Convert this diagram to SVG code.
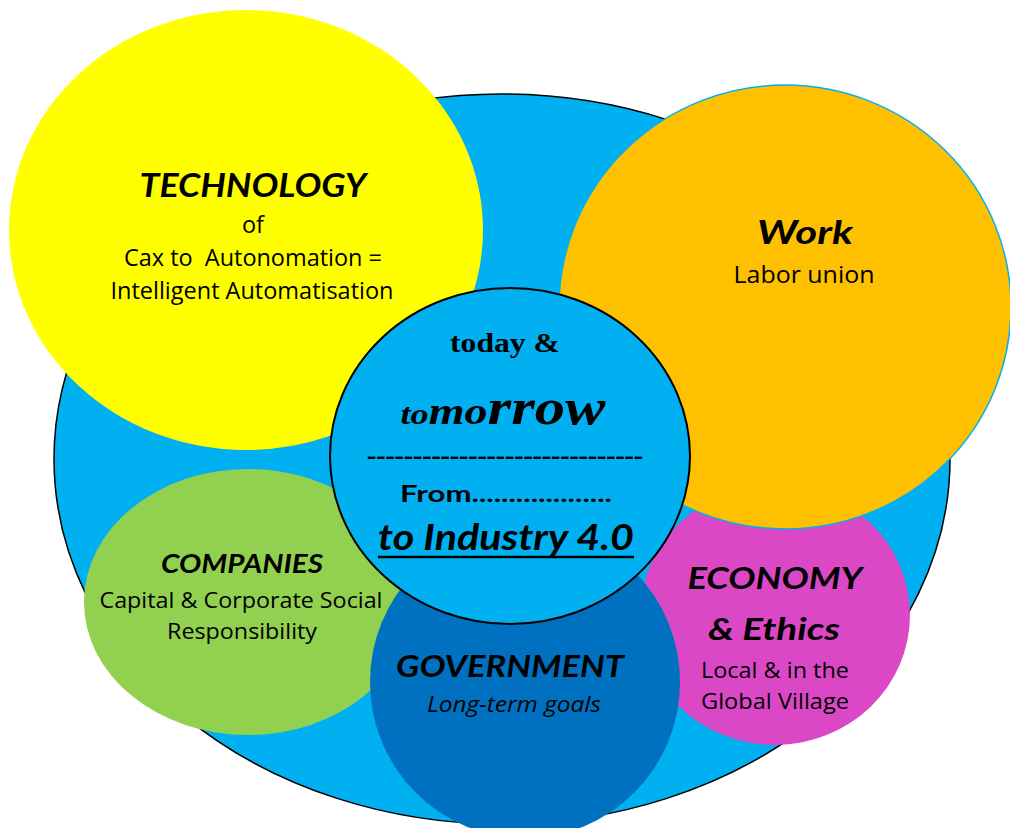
<svg xmlns="http://www.w3.org/2000/svg" width="1010" height="828" viewBox="0 0 1010 828">
<style>
.s{font-family:"Open Sans","Noto Sans","Liberation Sans",sans-serif;fill:#000;text-anchor:middle}
.h{font-family:Lato,"Liberation Sans",sans-serif;font-weight:bold;font-style:italic;fill:#000;text-anchor:middle}
.b{font-family:Lato,"Liberation Sans",sans-serif;font-weight:bold;fill:#000;text-anchor:middle}
.t{font-family:"Liberation Serif","Times New Roman",serif;font-weight:bold;fill:#000;text-anchor:middle}
</style>
<rect width="1010" height="828" fill="#fff"/>
<g id="base"><ellipse cx="502" cy="459" rx="448" ry="365" fill="#00B0F0" stroke="#000" stroke-width="1.5"/></g>
<g id="economy">
<ellipse cx="775" cy="615" rx="135" ry="130" fill="#DB48C6"/>
<text class="h" x="775" y="589" font-size="30" textLength="175" lengthAdjust="spacingAndGlyphs">ECONOMY</text>
<text class="h" x="774" y="640" font-size="31" textLength="132" lengthAdjust="spacingAndGlyphs">&amp; Ethics</text>
<text class="s" x="775" y="678" font-size="22" textLength="148" lengthAdjust="spacingAndGlyphs">Local &amp; in the</text>
<text class="s" x="775" y="709" font-size="22" textLength="148" lengthAdjust="spacingAndGlyphs">Global Village</text>
</g>
<g id="work">
<ellipse cx="785" cy="307" rx="226" ry="222" fill="#FFC000" stroke="#00B0F0" stroke-width="1.5"/>
<text class="h" x="805" y="244" font-size="33" textLength="96" lengthAdjust="spacingAndGlyphs">Work</text>
<text class="s" x="804" y="283" font-size="23" textLength="141" lengthAdjust="spacingAndGlyphs">Labor union</text>
</g>
<g id="technology">
<ellipse cx="246" cy="230" rx="237" ry="220" fill="#FFFF00"/>
<text class="h" x="253" y="197" font-size="33" textLength="227" lengthAdjust="spacingAndGlyphs">TECHNOLOGY</text>
<text class="s" x="253" y="233" font-size="23" textLength="22" lengthAdjust="spacingAndGlyphs">of</text>
<text class="s" x="253" y="266" font-size="23" textLength="258" lengthAdjust="spacingAndGlyphs" xml:space="preserve">Cax to  Autonomation =</text>
<text class="s" x="252" y="299" font-size="23" textLength="283" lengthAdjust="spacingAndGlyphs">Intelligent Automatisation</text>
</g>
<g id="companies">
<ellipse cx="248" cy="602" rx="164" ry="133" fill="#92D050"/>
<text class="h" x="242" y="573" font-size="26" textLength="162" lengthAdjust="spacingAndGlyphs">COMPANIES</text>
<text class="s" x="241" y="608" font-size="22" textLength="283" lengthAdjust="spacingAndGlyphs">Capital &amp; Corporate Social</text>
<text class="s" x="242" y="639" font-size="22" textLength="150" lengthAdjust="spacingAndGlyphs">Responsibility</text>
</g>
<g id="government">
<ellipse cx="525" cy="682" rx="155" ry="156" fill="#0070C0"/>
<text class="h" x="510" y="677" font-size="30" textLength="228" lengthAdjust="spacingAndGlyphs">GOVERNMENT</text>
<text class="s" x="514" y="712" font-size="22" font-style="italic" textLength="174" lengthAdjust="spacingAndGlyphs">Long-term goals</text>
</g>
<g id="center">
<ellipse cx="510" cy="456" rx="180" ry="168" fill="#00B0F0" stroke="#000" stroke-width="2"/>
<text class="t" x="505" y="352" font-size="27" textLength="110" lengthAdjust="spacingAndGlyphs">today &amp;</text>
<text class="t" x="503" y="424" font-style="italic" textLength="205" lengthAdjust="spacingAndGlyphs"><tspan font-size="30">to</tspan><tspan font-size="38">mo</tspan><tspan font-size="50">rrow</tspan></text>
<text class="s" x="505" y="463" font-size="20" font-weight="bold" textLength="276" lengthAdjust="spacingAndGlyphs">------------------------------</text>
<text class="b" x="506" y="502" font-size="23" textLength="212" lengthAdjust="spacingAndGlyphs">From...................</text>
<text class="h" x="506" y="550" font-size="36" textLength="256" lengthAdjust="spacingAndGlyphs">to Industry 4.0</text>
<line x1="378" y1="557" x2="634" y2="557" stroke="#000" stroke-width="2.5"/>
</g>
</svg>
